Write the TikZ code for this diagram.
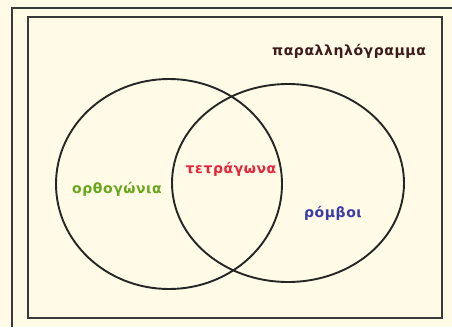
\documentclass[tikz,border=0pt]{standalone}
\usepackage{fontspec}
\setmainfont{DejaVu Sans}[LetterSpace=4]
\definecolor{paper}{HTML}{FFFBE6}
\definecolor{framegray}{HTML}{3A3A3A}
\definecolor{titlebrown}{HTML}{3C1C1C}
\definecolor{rectgreen}{HTML}{6AA51E}
\definecolor{sqred}{HTML}{E8243A}
\definecolor{rhblue}{HTML}{3A3AA8}
\tikzset{
  setline/.style={line width=1.9pt, draw=black!85},
  lbl/.style={font=\bfseries\fontsize{14}{16}\selectfont, inner sep=0pt}
}
\begin{document}
\begin{tikzpicture}[x=1pt,y=-1pt]
  \useasboundingbox (0,0) rectangle (452,327);
  \fill[paper] (0,0) rectangle (452,327);
  % outer page frame
  \draw[line width=1.4pt, framegray] (12,327) -- (12,8) -- (452,8);
  % universe: parallelograms
  \draw[line width=2.2pt, draw=framegray, fill=paper] (28,17) rectangle (442,318);
  % sets
  \draw[setline] (169,184) ellipse [x radius=113, y radius=105];
  \draw[setline] (288,183) ellipse [x radius=116, y radius=99];
  % labels
  \node[lbl, text=titlebrown] (par) at (349,51) {παραλληλόγραμμα};
  \node[lbl, text=rectgreen] (orth) at (117,189) {ορθογώνια};
  \node[lbl, text=sqred] (tetr) at (231,169) {τετράγωνα};
  \node[lbl, text=rhblue] (romb) at (333,213) {ρόμβοι};
\end{tikzpicture}
\end{document}
